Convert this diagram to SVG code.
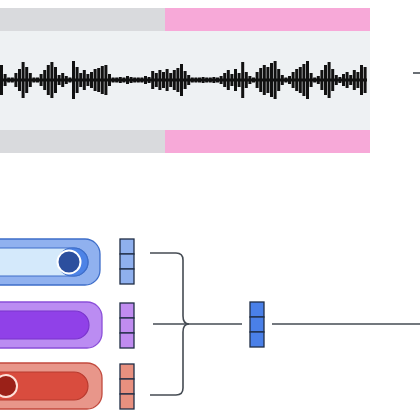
<svg xmlns="http://www.w3.org/2000/svg" width="420" height="420" viewBox="0 0 420 420">
<style>
.conn{fill:none;stroke:#454b53;stroke-width:1.6;stroke-linecap:butt}
.cell{stroke:#1f2d45;stroke-width:1.3}
</style>
<rect width="420" height="420" fill="#ffffff"/>
<g id="audio">
<rect x="0" y="8" width="165" height="23" fill="#d9dadd"/>
<rect x="165" y="8" width="205" height="23" fill="#f7a9d8"/>
<rect x="0" y="31" width="370" height="99" fill="#eef1f3"/>
<rect x="0" y="130" width="165" height="23" fill="#d9dadd"/>
<rect x="165" y="130" width="205" height="23" fill="#f7a9d8"/>
<rect x="0" y="78.5" width="367" height="3" fill="#111111"/>
<path fill="none" stroke="#111111" stroke-width="3" d="M1.5 65v30M5.1 74v12M8.7 77.5v5M12.3 77.5v5M15.9 73v14M19.5 69v22M23.1 62v36M26.7 67v26M30.3 73v14M33.9 77.5v5M37.5 77.5v5M41.1 74v12M44.7 70v20M48.3 65v30M51.9 62v36M55.5 67v26M59.1 75v10M62.7 73v14M66.3 76v8M69.9 77.5v5M73.5 61v38M77.1 67v26M80.7 73v14M84.3 70v20M87.9 74v12M91.5 72v16M95.1 69v22M98.7 68v24M102.3 66v28M105.9 65v30M109.5 74v12M113.1 77.5v5M116.7 77.5v5M120.3 77v6M123.9 77.5v5M127.5 76v8M131.1 77v6M134.7 77.5v5M138.3 77.5v5M141.9 77.5v5M145.5 76v8M149.1 77v6M152.7 71v18M156.3 73v14M159.9 70v20M163.5 72v16M167.1 69v22M170.7 73v14M174.3 70v20M177.9 68v24M181.5 64v32M185.1 71v18M188.7 75v10M192.3 77.5v5M195.9 77.5v5M199.5 77.5v5M203.1 77v6M206.7 77.5v5M210.3 77.5v5M213.9 77v6M217.5 77.5v5M221.1 76v8M224.7 73v14M228.3 70v20M231.9 74v12M235.5 69v22M239.1 73v14M242.7 62v36M246.3 72v16M249.9 76v8M253.5 77.5v5M257.1 72v16M260.7 68v24M264.3 65v30M267.9 67v26M271.5 63v34M275.1 61v38M278.7 69v22M282.3 75v10M285.9 77.5v5M289.5 76v8M293.1 72v16M296.7 69v22M300.3 67v26M303.9 64v32M307.5 61v38M311.1 73v14M314.7 77.5v5M318.3 76v8M321.9 70v20M325.5 65v30M329.1 62v36M332.7 69v22M336.3 75v10M339.9 77v6M343.5 74v12M347.1 72v16M350.7 75v10M354.3 70v20M357.9 72v16M361.5 65v30M365.1 67v26"/>
</g>
<g id="pill-blue">
<rect x="-20" y="239" width="120" height="46" rx="15" fill="#90b1ef" stroke="#3e6ec9" stroke-width="1.3"/>
<rect x="-20" y="248" width="108" height="28" rx="14" fill="#d4e9fb" stroke="#3e6ec9" stroke-width="1.2"/>
<rect x="58" y="248" width="30" height="28" rx="14" fill="#4d83e6" stroke="#3e6ec9" stroke-width="1.2"/>
<circle cx="69" cy="262" r="11.5" fill="#2c4f9e" stroke="#ffffff" stroke-width="2"/>
</g>
<g id="pill-purple">
<rect x="-20" y="302" width="122" height="46" rx="15" fill="#bb8cf2" stroke="#8b4fd9" stroke-width="1.3"/>
<rect x="-20" y="311" width="109" height="28" rx="14" fill="#9041e8" stroke="#7a35cc" stroke-width="1.2"/>
</g>
<g id="pill-red">
<rect x="-20" y="363" width="122" height="46" rx="15" fill="#e8968a" stroke="#c24a3e" stroke-width="1.3"/>
<rect x="-20" y="372" width="108" height="28" rx="14" fill="#d94c3e" stroke="#b83a2e" stroke-width="1.2"/>
<circle cx="6" cy="386" r="11" fill="#9b2118" stroke="#fde0d8" stroke-width="2"/>
</g>
<g id="tokens-blue" fill="#8fb0ee">
<rect class="cell" x="120" y="239" width="14" height="15"/>
<rect class="cell" x="120" y="254" width="14" height="15"/>
<rect class="cell" x="120" y="269" width="14" height="15"/>
</g>
<g id="tokens-purple" fill="#c08cf0">
<rect class="cell" x="120" y="303" width="14" height="15"/>
<rect class="cell" x="120" y="318" width="14" height="15"/>
<rect class="cell" x="120" y="333" width="14" height="15"/>
</g>
<g id="tokens-red" fill="#e8907f">
<rect class="cell" x="120" y="364" width="14" height="15"/>
<rect class="cell" x="120" y="379" width="14" height="15"/>
<rect class="cell" x="120" y="394" width="14" height="15"/>
</g>
<g id="tokens-out" fill="#4a80e8">
<rect class="cell" x="250" y="302" width="14" height="15"/>
<rect class="cell" x="250" y="317" width="14" height="15"/>
<rect class="cell" x="250" y="332" width="14" height="15"/>
</g>
<g id="connectors">
<path class="conn" d="M150 253H176Q183 253 183 260V316Q183 324 189 324Q183 324 183 332V388Q183 395 176 395H150"/>
<path class="conn" d="M153 324H242"/>
<path class="conn" d="M272 324H420"/>
<path class="conn" d="M413 73H420"/>
</g>
</svg>
